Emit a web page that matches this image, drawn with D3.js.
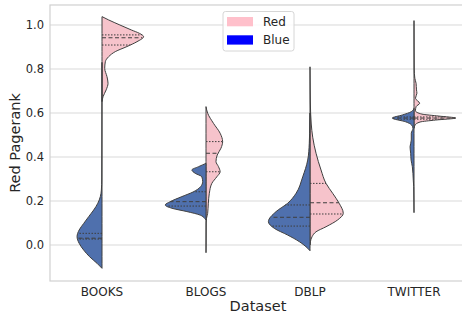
<!DOCTYPE html>
<html>
<head>
<meta charset="utf-8">
<script src="https://cdn.jsdelivr.net/npm/d3@7"></script>
<style>
  body { margin: 0; background: #fff; }
  svg { font-family: "DejaVu Sans", sans-serif; }
</style>
</head>
<body>
<svg id="viz" width="462" height="316"></svg>
<script>
// categories and ticks
var categories = ["BOOKS", "BLOGS", "DBLP", "TWITTER"];
var yTicks = [0, 0.2, 0.4, 0.6, 0.8, 1.0];
var hues = ["Red", "Blue"];

// half-violin profiles: [pagerank, relative density]
var booksRed = [[1.038,0],[1.023,0.16],[1.0,0.43],[0.977,0.71],[0.962,0.9],[0.947,1.0],[0.924,0.84],[0.902,0.6],[0.879,0.32],[0.856,0.16],[0.833,0.08],[0.803,0.065],[0.765,0.12],[0.735,0.145],[0.705,0.1],[0.674,0.025],[0.652,0]];
var booksBlue = [[0.83,0],[0.5,0.003],[0.3,0.006],[0.25,0.015],[0.22,0.04],[0.19,0.1],[0.159,0.2],[0.129,0.32],[0.098,0.44],[0.068,0.55],[0.038,0.6],[0.008,0.55],[-0.023,0.44],[-0.053,0.3],[-0.083,0.12],[-0.106,0]];
var blogsRed = [[0.629,0],[0.599,0.04],[0.553,0.18],[0.508,0.34],[0.47,0.4],[0.44,0.36],[0.409,0.27],[0.379,0.24],[0.356,0.3],[0.333,0.34],[0.31,0.26],[0.28,0.14],[0.235,0.08],[0.19,0.056],[0.144,0.04],[0.121,0.012],[0.1,0.005],[0.0,0.002],[-0.035,0]];
var blogsBlue = [[0.371,0],[0.356,0.18],[0.341,0.34],[0.326,0.26],[0.31,0.1],[0.288,0.08],[0.265,0.13],[0.242,0.3],[0.22,0.58],[0.197,0.86],[0.182,0.98],[0.167,0.82],[0.152,0.46],[0.136,0.14],[0.121,0.03],[0.114,0]];
var dblpRed = [[0.81,0],[0.7,0.005],[0.6,0.015],[0.55,0.03],[0.49,0.065],[0.417,0.145],[0.341,0.265],[0.28,0.385],[0.235,0.545],[0.19,0.7],[0.144,0.8],[0.114,0.665],[0.083,0.385],[0.06,0.145],[0.038,0.05],[0.015,0.01],[0.0,0]];
var dblpBlue = [[0.6,0],[0.55,0.005],[0.462,0.017],[0.386,0.055],[0.31,0.175],[0.235,0.335],[0.19,0.535],[0.152,0.815],[0.106,1.0],[0.076,0.86],[0.045,0.535],[0.015,0.255],[-0.015,0.055],[-0.026,0]];
var twitterRed = [[1.02,0],[0.9,0.002],[0.8,0.005],[0.758,0.02],[0.735,0.05],[0.705,0.06],[0.69,0.07],[0.667,0.035],[0.644,0.135],[0.629,0.05],[0.61,0.035],[0.595,0.19],[0.586,0.6],[0.577,1.0],[0.568,0.52],[0.559,0.145],[0.545,0.025],[0.53,0]];
var twitterBlue = [[0.621,0],[0.606,0.065],[0.591,0.28],[0.577,0.52],[0.56,0.2],[0.545,0.055],[0.53,0.025],[0.508,0.065],[0.477,0.065],[0.447,0.095],[0.417,0.08],[0.386,0.07],[0.356,0.04],[0.295,0.017],[0.265,0.007],[0.2,0.002],[0.147,0]];

var redProfiles = [booksRed, blogsRed, dblpRed, twitterRed];
var blueProfiles = [booksBlue, blogsBlue, dblpBlue, twitterBlue];

// quartiles [q1, median, q3]
var redQuartiles = [[0.909,0.942,0.955],[0.333,0.417,0.47],[0.141,0.192,0.28],[0.572,0.577,0.582]];
var blueQuartiles = [[0.027,0.031,0.053],[0.177,0.197,0.242],[0.086,0.126,0.182],[0.572,0.577,0.582]];

(function() {
    var svg = d3.select('svg#viz');
    var left = 50, right = 466, plotTop = 5, plotBottom = 281;
    var ink = '#262626';
    var edge = '#3f3f3f';

    var x = d3.scaleBand().domain(categories).range([left, right]).padding(0);
    var y = d3.scaleLinear().domain([-0.1636, 1.0909]).range([plotBottom, plotTop]);
    var w = d3.scaleLinear().domain([0, 1]).range([0, x.bandwidth() * 0.4]);

    // grid
    svg.append('g').selectAll('line').data(yTicks).enter().append('line')
        .attr('x1', left).attr('x2', right)
        .attr('y1', function(d) { return y(d); })
        .attr('y2', function(d) { return y(d); })
        .attr('stroke', '#d9d9d9').attr('stroke-width', 1);

    // spines
    svg.append('rect')
        .attr('x', left).attr('y', plotTop)
        .attr('width', right - left).attr('height', plotBottom - plotTop)
        .attr('fill', 'none').attr('stroke', '#d0d0d0').attr('stroke-width', 1.2);

    // y tick labels
    svg.append('g').selectAll('text').data(yTicks).enter().append('text')
        .attr('x', left - 6)
        .attr('y', function(d) { return y(d); })
        .attr('dy', '0.36em')
        .attr('text-anchor', 'end')
        .attr('font-size', 11.5)
        .attr('fill', ink)
        .text(function(d) { return d3.format('.1f')(d); });

    // x tick labels
    svg.append('g').selectAll('text').data(categories).enter().append('text')
        .attr('x', function(d) { return x(d) + x.bandwidth() / 2; })
        .attr('y', 296)
        .attr('text-anchor', 'middle')
        .attr('font-size', 12)
        .attr('fill', ink)
        .text(function(d) { return d; });

    svg.append('text')
        .attr('x', (left + right) / 2).attr('y', 311)
        .attr('text-anchor', 'middle').attr('font-size', 14.5).attr('fill', ink)
        .text('Dataset');

    svg.append('text')
        .attr('transform', 'translate(20,' + ((plotTop + plotBottom) / 2) + ') rotate(-90)')
        .attr('text-anchor', 'middle').attr('font-size', 14.5).attr('fill', ink)
        .text('Red Pagerank');

    // violins
    function drawHalf(profile, cat, side, fill) {
        var cx = x(cat) + x.bandwidth() / 2;
        var area = d3.area()
            .y(function(d) { return y(d[0]); })
            .x0(cx)
            .x1(function(d) { return cx + side * w(d[1]); })
            .curve(d3.curveMonotoneY);
        var sorted = profile.slice().sort(function(a, b) { return a[0] - b[0]; });
        svg.append('path')
            .attr('d', area(sorted))
            .attr('fill', fill)
            .attr('stroke', edge)
            .attr('stroke-width', 1)
            .attr('stroke-linejoin', 'round');
        return d3.scaleLinear()
            .domain(sorted.map(function(d) { return d[0]; }))
            .range(sorted.map(function(d) { return d[1]; }));
    }

    function drawQuartiles(dens, q, cat, side) {
        var cx = x(cat) + x.bandwidth() / 2;
        q.forEach(function(v, i) {
            svg.append('line')
                .attr('x1', cx)
                .attr('x2', cx + side * w(dens(v)))
                .attr('y1', y(v)).attr('y2', y(v))
                .attr('stroke', edge)
                .attr('stroke-width', 1)
                .attr('stroke-dasharray', i === 1 ? '4,2.5' : '1.5,1.5');
        });
    }

    categories.forEach(function(cat, i) {
        var dr = drawHalf(redProfiles[i], cat, 1, '#f6c3cb');
        var db = drawHalf(blueProfiles[i], cat, -1, '#4f70ad');
        drawQuartiles(dr, redQuartiles[i], cat, 1);
        drawQuartiles(db, blueQuartiles[i], cat, -1);
    });

    // legend
    var lg = svg.append('g');
    lg.append('rect')
        .attr('x', 223).attr('y', 11.5).attr('width', 71).attr('height', 39.5)
        .attr('rx', 2.5).attr('fill', '#fff').attr('fill-opacity', 0.85)
        .attr('stroke', '#d6d6d6').attr('stroke-width', 1);
    var legendColors = ['pink', 'blue'];
    hues.forEach(function(h, i) {
        lg.append('rect')
            .attr('x', 227).attr('y', 17 + i * 18.3)
            .attr('width', 26).attr('height', 9.3)
            .attr('fill', legendColors[i]);
        lg.append('text')
            .attr('x', 263).attr('y', 26 + i * 18.3)
            .attr('font-size', 12).attr('fill', ink)
            .text(h);
    });
})();
</script>
</body>
</html>
